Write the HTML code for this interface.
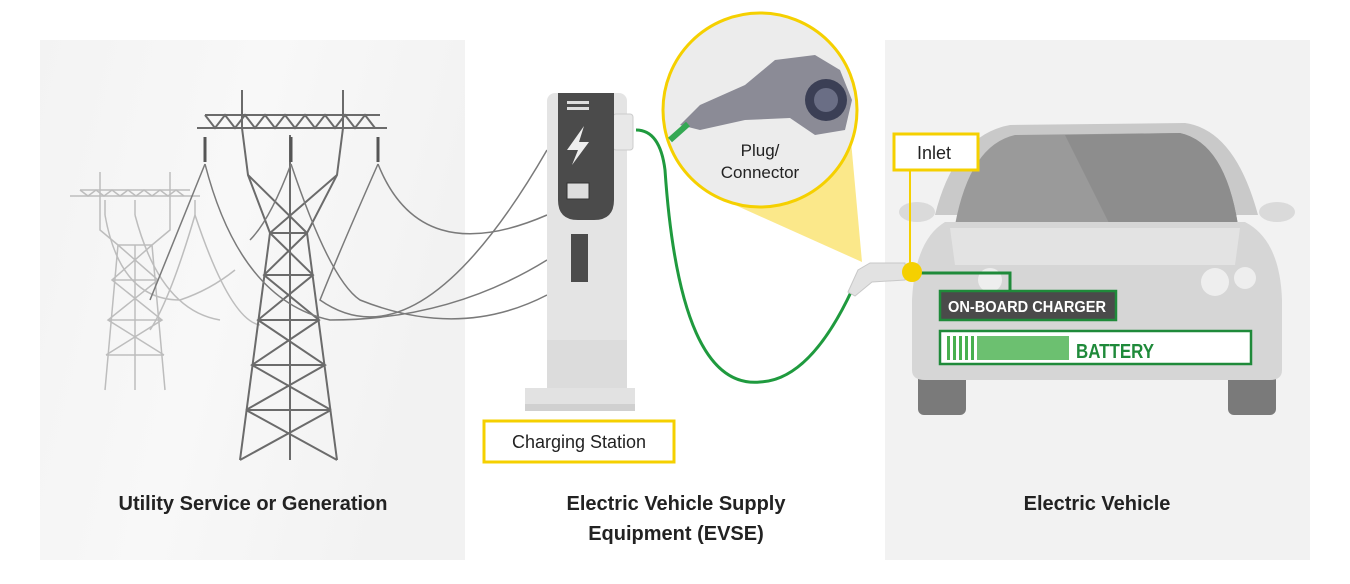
<!DOCTYPE html>
<html><head><style>
body{margin:0;background:#fff;}
svg{display:block}
text{font-family:"Liberation Sans",sans-serif}
</style></head><body>
<svg width="1350" height="584" viewBox="0 0 1350 584" xmlns="http://www.w3.org/2000/svg">
<defs>
<linearGradient id="lg" x1="0" y1="0" x2="1" y2="0.3">
<stop offset="0" stop-color="#f3f3f3"/><stop offset="0.5" stop-color="#f8f8f8"/><stop offset="1" stop-color="#f2f2f2"/>
</linearGradient>
</defs>
<rect x="40" y="40" width="425" height="520" fill="url(#lg)"/>
<rect x="885" y="40" width="425" height="520" fill="#f2f2f2"/>

<!-- small tower -->
<g stroke="#bdbdbd" stroke-width="1.5" fill="none">
<line x1="70" y1="196" x2="200" y2="196"/>
<line x1="80" y1="190" x2="190" y2="190"/>
<path d="M80 190 L88 196 L96 190 L104 196 L112 190 L120 196 L128 190 L136 196 L144 190 L152 196 L160 190 L168 196 L176 190 L184 196"/>
<path d="M100 172 L100 230 L118 245 L105 390 M170 172 L170 230 L152 245 L165 390"/>
<path d="M118 245 L152 245 M112 280 L158 280 M108 320 L162 320 M106 355 L164 355 M118 245 L158 280 L108 320 L164 355 M152 245 L112 280 L162 320 L106 355 M135 245 L135 390"/>
<path d="M105 200 L105 215 M135 200 L135 215 M195 200 L195 215"/>
<path d="M105 215 Q120 300 180 300 Q210 290 235 270 M135 215 Q160 310 220 320 M195 215 Q170 300 150 330 M195 215 Q230 320 260 325"/>
</g>
<!-- big tower -->
<g stroke="#6b6b6b" stroke-width="2" fill="none">
<line x1="197" y1="128" x2="387" y2="128"/>
<line x1="205" y1="115" x2="380" y2="115"/>
<path d="M205 115 L215 128 L225 115 L235 128 L245 115 L255 128 L265 115 L275 128 L285 115 L295 128 L305 115 L315 128 L325 115 L335 128 L345 115 L355 128 L365 115 L375 128"/>
<path d="M242 90 L242 128 L248 175 L270 233 L240 460 M343 90 L343 128 L337 175 L307 233 L337 460"/>
<path d="M248 175 L307 233 M337 175 L270 233 M270 233 L307 233 M264 275 L313 275 M258 320 L319 320 M252 365 L325 365 M246 410 L331 410 M270 233 L313 275 L258 320 L325 365 L246 410 M307 233 L264 275 L319 320 L252 365 L331 410 M246 410 L337 460 M331 410 L240 460 M290 135 L290 460"/>
</g>
<g stroke="#555" stroke-width="3">
<line x1="205" y1="137" x2="205" y2="162"/><line x1="291" y1="137" x2="291" y2="162"/><line x1="378" y1="137" x2="378" y2="162"/>
</g>
<g stroke="#7a7a7a" stroke-width="1.5" fill="none">
<path d="M205 164 Q240 300 330 320 Q450 320 547 260"/>
<path d="M205 164 Q170 250 150 300"/>
<path d="M291 164 Q330 280 360 300 Q460 340 547 295"/>
<path d="M291 164 Q270 220 250 240"/>
<path d="M378 164 Q420 270 547 215"/>
<path d="M378 164 Q340 250 320 300 Q420 370 547 150"/>
</g>

<!-- charger -->
<rect x="547" y="93" width="80" height="300" rx="8" fill="#e4e4e4"/>
<rect x="547" y="340" width="80" height="48" fill="#dcdcdc"/>
<rect x="613" y="114" width="20" height="36" rx="3" fill="#e8e8e8" stroke="#ccc"/>
<path d="M558 93 H614 V200 Q614 220 594 220 H578 Q558 220 558 200 Z" fill="#4b4b4b"/>
<rect x="567" y="101" width="22" height="3" fill="#ddd"/><rect x="567" y="107" width="22" height="3" fill="#ddd"/>
<path d="M584 126 L567 150 L578 150 L572 165 L589 142 L579 142 Z" fill="#eee"/>
<rect x="567" y="183" width="22" height="16" fill="#ddd" stroke="#333"/>
<rect x="571" y="234" width="17" height="48" fill="#4b4b4b"/>
<rect x="525" y="388" width="110" height="18" fill="#e2e2e2"/>
<rect x="525" y="404" width="110" height="7" fill="#d0d0d0"/>

<!-- cone and circle -->
<polygon points="735,205 850,130 862,262" fill="#fbe88a"/>
<circle cx="760" cy="110" r="97" fill="#ececec" stroke="#f5d000" stroke-width="3"/>
<path d="M680 125 L700 105 L745 85 L775 60 L815 55 L840 70 L852 100 L845 130 L815 135 L790 118 L745 120 L700 130 Z" fill="#8b8b96"/>
<circle cx="826" cy="100" r="21" fill="#3b3f55"/><circle cx="826" cy="100" r="12" fill="#6a6e85"/>
<path d="M670 140 L688 124" stroke="#34a853" stroke-width="6"/>
<text x="760" y="156" font-size="17" text-anchor="middle" fill="#222">Plug/</text>
<text x="760" y="178" font-size="17" text-anchor="middle" fill="#222">Connector</text>

<!-- green cable -->
<path d="M636 130 Q660 130 665 170 Q680 390 760 382 Q810 380 852 290" stroke="#1f9a3e" stroke-width="3" fill="none"/>
<path d="M848 292 L858 270 L870 263 L905 263 L905 280 L872 282 L855 296 Z" fill="#e2e2e2" stroke="#c8c8c8"/>

<!-- car -->
<path d="M935 215 Q955 135 1010 125 L1185 123 Q1235 130 1258 215 Z" fill="#c9c9c9"/>
<path d="M955 225 Q970 145 1015 135 L1180 133 Q1225 143 1238 225 Z" fill="#9a9a9a"/>
<path d="M1065 135 L1180 133 Q1225 143 1238 225 L1110 225 Z" fill="#8d8d8d"/>
<ellipse cx="917" cy="212" rx="18" ry="10" fill="#dadada"/><ellipse cx="1277" cy="212" rx="18" ry="10" fill="#dadada"/>
<rect x="918" y="360" width="48" height="55" rx="6" fill="#7a7a7a"/>
<rect x="1228" y="360" width="48" height="55" rx="6" fill="#7a7a7a"/>
<path d="M945 222 L1245 222 Q1280 240 1282 300 L1282 370 Q1282 380 1270 380 L925 380 Q912 380 912 370 L912 300 Q915 240 945 222 Z" fill="#d6d6d6"/>
<path d="M950 228 L1240 228 L1235 265 L955 265 Z" fill="#e3e3e3"/>
<circle cx="990" cy="280" r="12" fill="#eee"/><circle cx="1215" cy="282" r="14" fill="#eee"/><circle cx="1245" cy="278" r="11" fill="#eee"/>
<path d="M918 273 H1010 V292" stroke="#1f8a3a" stroke-width="3" fill="none"/>
<rect x="940" y="291" width="176" height="29" fill="#4a4a4a" stroke="#1f8a3a" stroke-width="2.5"/>
<text x="948" y="312" font-size="16" font-weight="bold" fill="#fff" textLength="158" lengthAdjust="spacingAndGlyphs">ON-BOARD CHARGER</text>
<rect x="940" y="331" width="311" height="33" fill="#fff" stroke="#1f8a3a" stroke-width="2.5"/>
<g fill="#48b04f">
<rect x="947" y="336" width="3" height="24"/><rect x="953" y="336" width="3" height="24"/><rect x="959" y="336" width="3" height="24"/><rect x="965" y="336" width="3" height="24"/><rect x="971" y="336" width="3" height="24"/>
<rect x="977" y="336" width="92" height="24" fill="#6cc070"/>
</g>
<text x="1076" y="358" font-size="20" font-weight="bold" fill="#1f8a3a" textLength="78" lengthAdjust="spacingAndGlyphs">BATTERY</text>
<line x1="910" y1="170" x2="910" y2="270" stroke="#f5d000" stroke-width="2"/>
<circle cx="912" cy="272" r="10" fill="#f5d000"/>
<rect x="894" y="134" width="84" height="36" fill="#fff" stroke="#f5d000" stroke-width="3"/>
<text x="934" y="159" font-size="18" text-anchor="middle" fill="#222">Inlet</text>

<!-- labels -->
<rect x="484" y="421" width="190" height="41" fill="#fff" stroke="#f5d000" stroke-width="3"/>
<text x="579" y="448" font-size="18" text-anchor="middle" fill="#222">Charging Station</text>
<text x="253" y="510" font-size="20" font-weight="bold" text-anchor="middle" fill="#222">Utility Service or Generation</text>
<text x="676" y="510" font-size="20" font-weight="bold" text-anchor="middle" fill="#222">Electric Vehicle Supply</text>
<text x="676" y="540" font-size="20" font-weight="bold" text-anchor="middle" fill="#222">Equipment (EVSE)</text>
<text x="1097" y="510" font-size="20" font-weight="bold" text-anchor="middle" fill="#222">Electric Vehicle</text>
</svg>
</body></html>
